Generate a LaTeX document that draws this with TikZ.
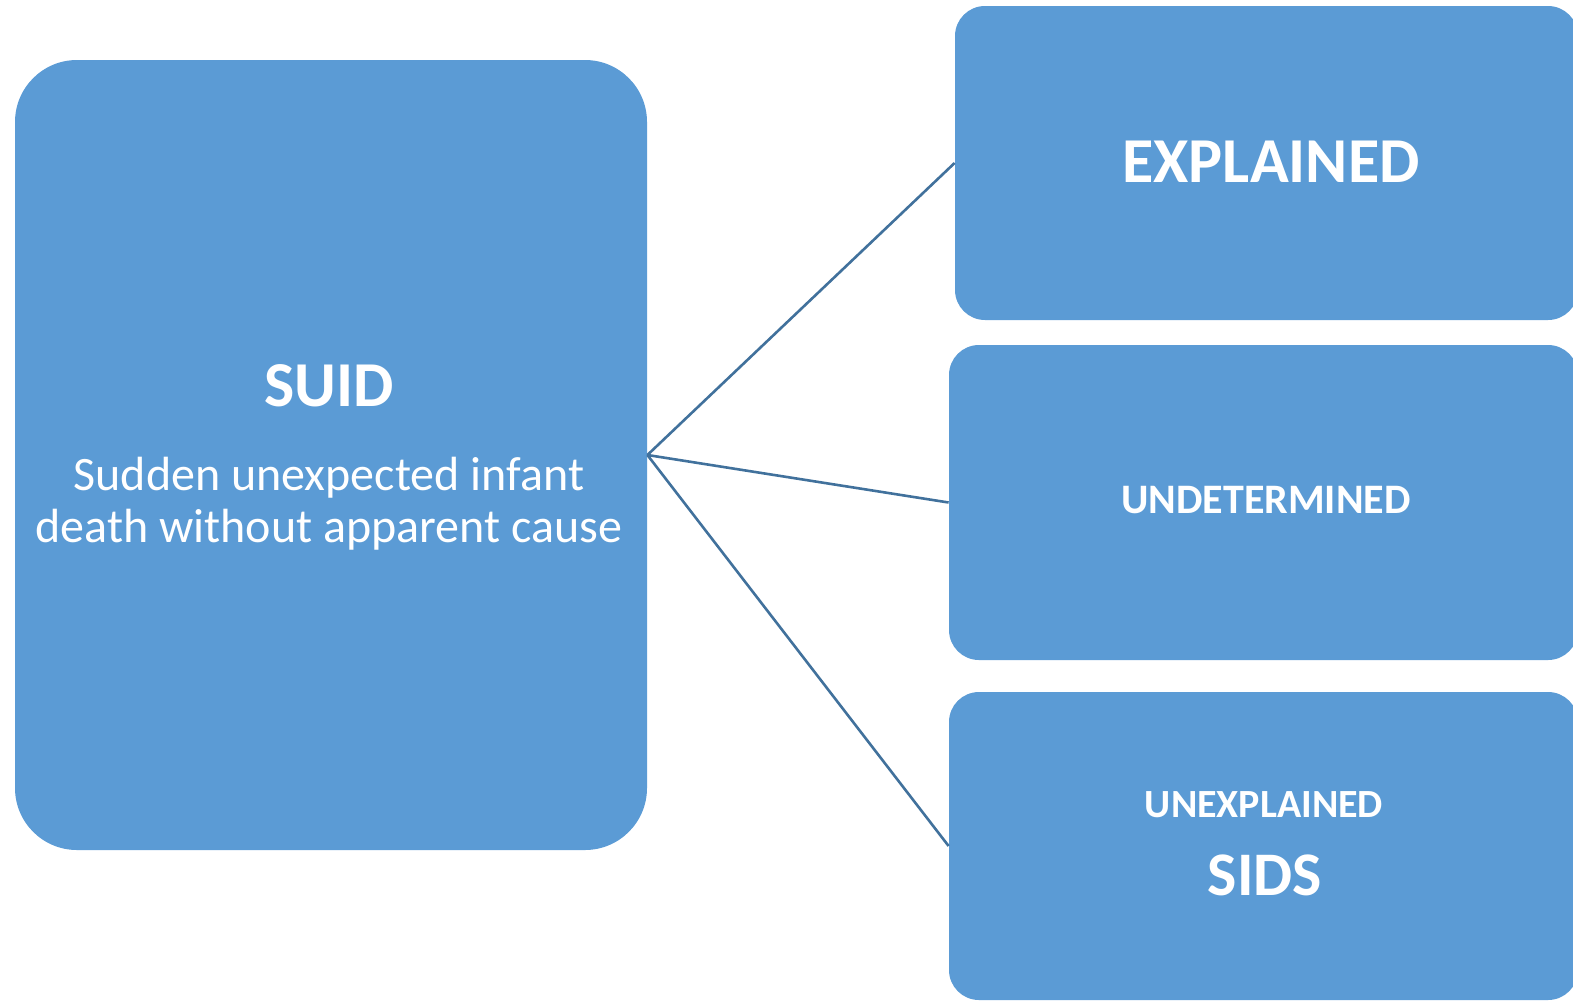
\documentclass[tikz,border=0pt]{standalone}
\usepackage{fontspec}
\setmainfont{Carlito}
\definecolor{boxblue}{HTML}{5B9BD5}
\definecolor{linkblue}{HTML}{41719C}
\tikzset{
  bigbox/.style={fill=boxblue, draw=none, inner sep=0pt, rounded corners=31pt,
    minimum width=316pt, minimum height=395pt},
  sidebox/.style={fill=boxblue, draw=none, inner sep=0pt, rounded corners=15pt},
  link/.style={draw=linkblue, line width=1.3pt},
  headtext/.style={text=white, inner sep=0pt, anchor=base, font=\fontsize{32}{38}\selectfont\bfseries},
  midtext/.style={text=white, inner sep=0pt, anchor=base, font=\fontsize{21}{25}\selectfont\bfseries},
  bodytext/.style={text=white, inner sep=0pt, anchor=base, align=center, font=\fontsize{24}{26}\selectfont}
}
\begin{document}
\begin{tikzpicture}[x=0.5pt,y=-0.5pt]
  \useasboundingbox (0,0) rectangle (1573,1002);
  % category boxes
  \node[bigbox] (suid) at (331,455) {};
  \node[sidebox, minimum width=311.5pt, minimum height=157pt] (expl) at (1266.5,163) {};
  \node[sidebox, minimum width=314.5pt, minimum height=157.5pt] (undet) at (1263.5,502.5) {};
  \node[sidebox, minimum width=314.5pt, minimum height=154pt] (unexp) at (1263.5,846) {};
  % connectors from the main box
  \draw[link] (suid.east) -- (expl.west);
  \draw[link] (suid.east) -- (undet.west);
  \draw[link] (suid.east) -- (unexp.west);
  % labels
  \node[headtext] (suidt) at (329,406) {SUID};
  \node[bodytext] (suidd) at (329,542) {Sudden unexpected infant\\death without apparent cause};
  \node[headtext] (explt) at (1271,182) {EXPLAINED};
  \node[midtext] (undett) at (1266,513) {UNDETERMINED};
  \node[midtext, font=\fontsize{20}{24}\selectfont\bfseries] (unexpt) at (1264,817) {UNEXPLAINED};
  \node[headtext, font=\fontsize{31}{37}\selectfont\bfseries] (sidst) at (1265,895) {SIDS};
\end{tikzpicture}
\end{document}
